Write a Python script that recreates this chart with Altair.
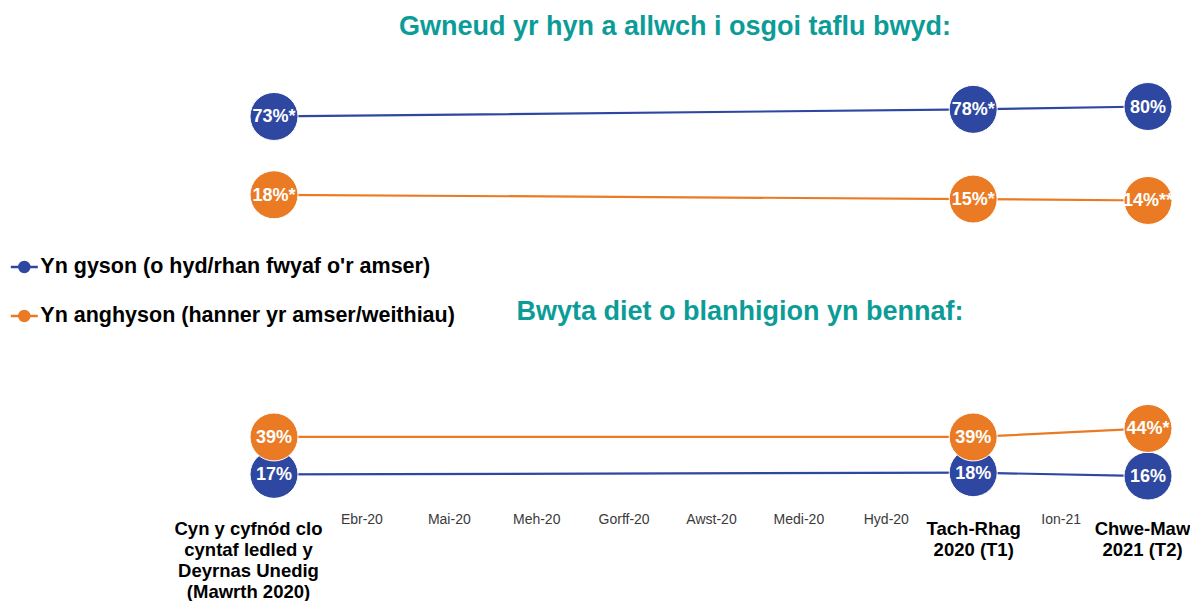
import altair as alt
import pandas as pd

# x categories ("|" marks a line break in the tick label)
categories = [
    "Cyn y cyfnód clo|cyntaf ledled y|Deyrnas Unedig|(Mawrth 2020)",
    "Ebr-20", "Mai-20", "Meh-20", "Gorff-20", "Awst-20", "Medi-20", "Hyd-20",
    "Tach-Rhag|2020 (T1)", "Ion-21", "Chwe-Maw|2021 (T2)",
]
measured_idx = [0, 8, 10]
series_names = [
    "Yn gyson (o hyd/rhan fwyaf o'r amser)",
    "Yn anghyson (hanner yr amser/weithiau)",
]
series_colors = ["#2E47A1", "#EA7B24"]

title_top = "Gwneud yr hyn a allwch i osgoi taflu bwyd:"
waste_consistent = [73, 78, 80]
waste_consistent_lbl = ["73%*", "78%*", "80%"]
waste_inconsistent = [18, 15, 14]
waste_inconsistent_lbl = ["18%*", "15%*", "14%**"]

title_bottom = "Bwyta diet o blanhigion yn bennaf:"
plant_consistent = [17, 18, 16]
plant_consistent_lbl = ["17%", "18%", "16%"]
plant_inconsistent = [39, 39, 44]
plant_inconsistent_lbl = ["39%", "39%", "44%*"]

FONT = "Liberation Sans"
TEAL = "#0C9C98"


def frame(cons, cons_lbl, incons, incons_lbl):
    rows = []
    for s, vals, lbls in [(series_names[0], cons, cons_lbl),
                          (series_names[1], incons, incons_lbl)]:
        for i, v, l in zip(measured_idx, vals, lbls):
            rows.append({"period": categories[i], "idx": i, "series": s,
                         "value": v, "label": l})
    return pd.DataFrame(rows)


color_scale = alt.Scale(domain=series_names, range=series_colors)
x_scale = alt.Scale(type="point", domain=categories, range=[266, 1140], padding=0)

legend_path = ("M-1,0L1,0"
               "M0.37,0A0.37,0.37,0,1,1,-0.37,0A0.37,0.37,0,1,1,0.37,0"
               "M0.2,0A0.2,0.2,0,1,1,-0.2,0A0.2,0.2,0,1,1,0.2,0"
               "M0.05,0A0.05,0.05,0,1,1,-0.05,0A0.05,0.05,0,1,1,0.05,0")

legend = alt.Legend(
    title=None, orient="none", legendX=1.3, legendY=198, direction="vertical",
    symbolType=legend_path, symbolSize=729, symbolStrokeWidth=2.5,
    labelFont=FONT, labelFontSize=21.5, labelFontWeight="bold", labelColor="#000000",
    labelLimit=700, rowPadding=23, labelOffset=1, padding=0,
)

bold_test = "indexof(datum.value, '|') >= 0"
bottom_axis = alt.Axis(
    title=None, domain=False, ticks=False, grid=False, labelAngle=0,
    labelExpr="split(datum.label, '|')", labelOverlap=False, labelLimit=400,
    labelFont=FONT, labelLineHeight=21, labelBaseline="top", labelAlign="center",
    labelFontSize={"condition": {"test": bold_test, "value": 18.5}, "value": 14},
    labelFontWeight={"condition": {"test": bold_test, "value": "bold"}, "value": "normal"},
    labelColor={"condition": {"test": bold_test, "value": "#000000"}, "value": "#3A3A3A"},
    labelPadding={"condition": {"test": bold_test, "value": 15.5}, "value": 8.5},
    labelOffset={"condition": [
        {"test": "indexof(datum.value, 'Cyn') == 0", "value": -26},
        {"test": "indexof(datum.value, 'Chwe') == 0", "value": -6},
    ], "value": 0},
)


def panel(df, title, dx, offset, domain, height, axis, leg):
    base = alt.Chart(df).encode(
        x=alt.X("period:N", scale=x_scale, axis=axis, sort=categories),
        y=alt.Y("value:Q", scale=alt.Scale(domain=domain, nice=False, zero=False), axis=None),
    )
    lines = base.mark_line(strokeWidth=2.2).encode(
        color=alt.Color("series:N", scale=color_scale, legend=leg),
        detail="series:N",
        order=alt.Order("idx:Q"),
    )
    points = base.mark_point(filled=True, opacity=1, size=2304, stroke="white",
                             strokeWidth=1).encode(
        fill=alt.Fill("series:N", scale=color_scale, legend=None),
    )
    texts = base.mark_text(color="white", font=FONT, fontSize=18, fontWeight="bold",
                           align="center", baseline="middle", dy=1).encode(
        text="label:N",
    )
    return alt.layer(lines, points, texts).properties(
        width=1182, height=height,
        title=alt.TitleParams(title, font=FONT, fontSize=27, fontWeight="bold",
                              color=TEAL, anchor="middle", dx=dx, offset=offset,
                              baseline="middle"),
    )


top = panel(frame(waste_consistent, waste_consistent_lbl,
                  waste_inconsistent, waste_inconsistent_lbl),
            title_top, 76, 0, [-3.92, 116.87], 172, None, legend)
bottom = panel(frame(plant_consistent, plant_consistent_lbl,
                     plant_inconsistent, plant_inconsistent_lbl),
               title_bottom, 141, 23.5, [-0.14, 82.8], 141, bottom_axis, legend)

chart = alt.vconcat(top, bottom, spacing=70.5).properties(
    padding={"top": 5, "left": 0, "right": 0, "bottom": 0}
).configure_view(stroke=None).resolve_scale(
    color="shared", fill="shared"
)

chart.save("out.html", embed_options={"renderer": "svg", "actions": False})
